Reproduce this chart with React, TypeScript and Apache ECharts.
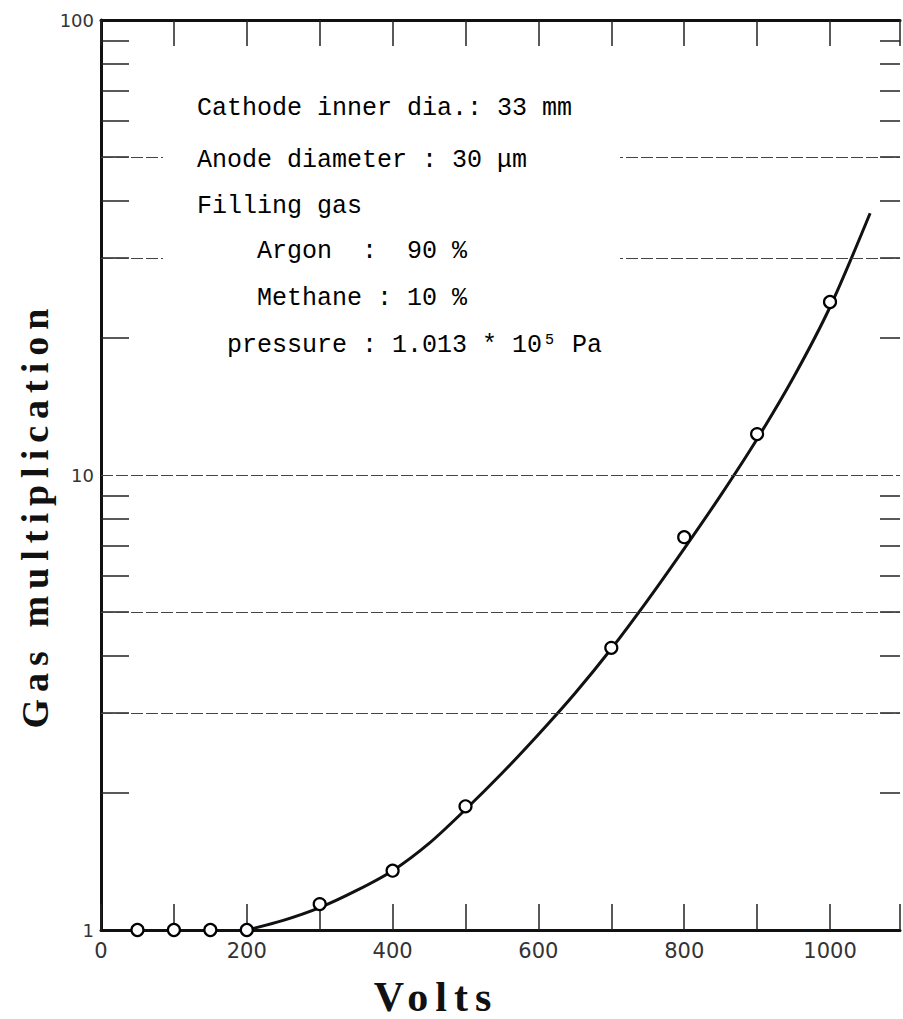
import React, { useEffect, useRef } from "react";
import * as echarts from "echarts";

// Measured points (Volts, gas multiplication)
const pointVolts = [50, 100, 150, 200, 300, 400, 500, 700, 800, 900, 1000];
const pointGain = [1, 1, 1, 1, 1.14, 1.35, 1.87, 4.17, 7.3, 12.3, 24];

// Hand-drawn fitted curve
const curveVolts = [200, 250, 300, 350, 400, 450, 500, 550, 600, 650, 700, 750, 800, 850, 900, 950, 1000, 1055];
const curveGain = [1, 1.05, 1.12, 1.22, 1.35, 1.55, 1.84, 2.21, 2.69, 3.31, 4.15, 5.31, 6.89, 9.02, 12.0, 16.4, 23.4, 37.6];

// Axis values
const xLabelValues = [0, 200, 400, 600, 800, 1000];
const yLabelValues = [1, 10, 100];
const yMinorTicks = [2, 3, 4, 5, 6, 7, 8, 9, 20, 30, 40, 50, 60, 70, 80, 90];
const yGridLines = [3, 5, 10, 30, 50];

// Annotation text
const noteLines = [
  "Cathode inner dia.: 33 mm",
  "Anode diameter : 30 μm",
  "Filling gas",
  "Argon  :  90 %",
  "Methane : 10 %",
  "pressure : 1.013 * 10⁵ Pa",
];

const css = `
svg text { white-space: pre; }
text[style*="Liberation Serif"] { letter-spacing: 7px; }
`;

export default function App() {
  const ref = useRef<HTMLDivElement>(null);

  useEffect(() => {
    if (!ref.current) return;
    const chart = echarts.init(ref.current, null, { renderer: "svg" });

    const noteX = [197, 197, 197, 257, 257, 227];
    const noteY = [108, 160, 206, 251, 298, 345];

    const axisLineStyle = { color: "#111", width: 3 };
    const tickStyle = { color: "#222", width: 1.5 };

    const option: any = {
      animation: false,
      backgroundColor: "#fff",
      grid: { left: 101, right: 0, top: 20, bottom: 89, containLabel: false },
      xAxis: [
        {
          type: "value",
          position: "bottom",
          min: 0,
          max: 1096,
          interval: 100,
          axisLine: { show: true, onZero: false, lineStyle: axisLineStyle },
          axisTick: { show: true, inside: true, length: 26, lineStyle: tickStyle },
          axisLabel: {
            show: true,
            margin: 10,
            color: "#333",
            fontFamily: "DejaVu Sans",
            fontSize: 21,
            formatter: (v: number) => (xLabelValues.includes(v) ? String(v) : ""),
          },
          splitLine: { show: false },
        },
        {
          type: "value",
          position: "top",
          min: 0,
          max: 1096,
          interval: 100,
          axisLine: { show: true, onZero: false, lineStyle: axisLineStyle },
          axisTick: { show: true, inside: true, length: 26, lineStyle: tickStyle },
          axisLabel: { show: false },
          splitLine: { show: false },
        },
      ],
      yAxis: [
        {
          type: "log",
          logBase: 10,
          position: "left",
          min: 1,
          max: 100,
          axisLine: { show: true, onZero: false, lineStyle: axisLineStyle },
          axisTick: { show: true, inside: true, length: 28, customValues: yMinorTicks, lineStyle: tickStyle },
          axisLabel: {
            show: true,
            margin: 7,
            customValues: yLabelValues,
            color: "#333",
            fontFamily: "DejaVu Sans",
            fontSize: 18,
          },
          splitLine: { show: false },
        },
        {
          type: "log",
          logBase: 10,
          position: "right",
          min: 1,
          max: 100,
          axisLine: { show: true, onZero: false, lineStyle: { color: "rgba(0,0,0,0)", width: 1 } },
          axisTick: { show: true, inside: true, length: 20, customValues: yMinorTicks, lineStyle: tickStyle },
          axisLabel: { show: false },
          splitLine: { show: false },
        },
      ],
      series: [
        {
          type: "line",
          name: "curve",
          xAxisIndex: 0,
          yAxisIndex: 0,
          data: curveVolts.map((v, i) => [v, curveGain[i]]),
          smooth: 0.3,
          symbol: "none",
          showSymbol: false,
          lineStyle: { color: "#111", width: 3 },
          z: 3,
          markLine: {
            silent: true,
            symbol: ["none", "none"],
            label: { show: false },
            lineStyle: { color: "#444", width: 1, type: [12, 3] },
            data: yGridLines.map((g) => ({ yAxis: g })),
          },
        },
        {
          type: "scatter",
          name: "points",
          xAxisIndex: 0,
          yAxisIndex: 0,
          data: pointVolts.map((v, i) => [v, pointGain[i]]),
          symbol: "circle",
          symbolSize: 12,
          itemStyle: { color: "#fff", borderColor: "#000", borderWidth: 2.2, opacity: 1 },
          z: 5,
        },
      ],
      graphic: [
        {
          type: "rect",
          z: 50,
          shape: { x: 163, y: 86, width: 457, height: 287 },
          style: { fill: "#fff" },
        },
        ...noteLines.map((t, i) => ({
          type: "text",
          z: 51,
          x: noteX[i],
          y: noteY[i],
          style: {
            text: t,
            fontFamily: "Liberation Mono",
            fontSize: 25,
            fill: "#000",
            align: "left",
            textAlign: "left",
            verticalAlign: "middle",
            textVerticalAlign: "middle",
          },
        })),
        {
          type: "text",
          z: 51,
          x: 35,
          y: 515,
          rotation: Math.PI / 2,
          style: {
            text: "Gas multiplication",
            fontFamily: "Liberation Serif",
            fontWeight: "bold",
            fontSize: 38,
            fill: "#111",
            align: "center",
            textAlign: "center",
            verticalAlign: "middle",
            textVerticalAlign: "middle",
          },
        },
        {
          type: "text",
          z: 51,
          x: 436,
          y: 997,
          style: {
            text: "Volts",
            fontFamily: "Liberation Serif",
            fontWeight: "bold",
            fontSize: 42,
            lineHeight: 40,
            fill: "#111",
            align: "center",
            textAlign: "center",
            verticalAlign: "middle",
            textVerticalAlign: "middle",
          },
        },
      ],
    };

    chart.setOption(option);
    return () => chart.dispose();
  }, []);

  return (
    <>
      <style>{css}</style>
      <div
        ref={ref}
        style={{ position: "absolute", left: 0, top: 0, width: 903, height: 1019, background: "#fff" }}
      />
    </>
  );
}
